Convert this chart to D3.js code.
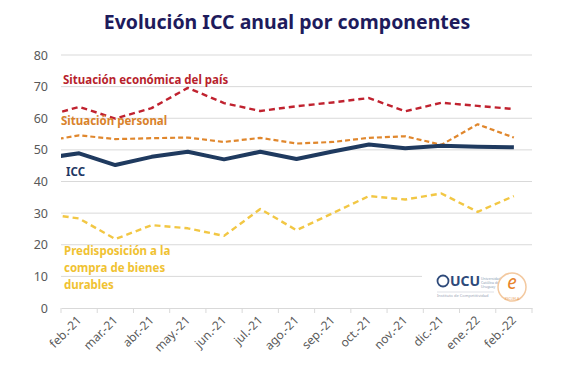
<!DOCTYPE html>
<html>
<head>
<meta charset="utf-8">
<script src="https://cdn.jsdelivr.net/npm/d3@7"></script>
<style>
  body { margin: 0; background: #fff; }
  text { font-family: "Noto Sans", "Open Sans", sans-serif; }
</style>
</head>
<body>
<svg id="chart" width="584" height="380"></svg>
<script>
// months shown on the axis
var months = ["feb.-21","mar.-21","abr.-21","may.-21","jun.-21","jul.-21","ago.-21",
              "sep.-21","oct.-21","nov.-21","dic.-21","ene.-22","feb.-22"];

// first value of each series is ene.-21 (the line enters from the left edge)
var pais      = [60.4, 63.6, 59.9, 63.2, 69.6, 64.8, 62.3, 63.8, 65.0, 66.4, 62.2, 64.9, 63.9, 62.9];
var personal  = [52.6, 54.6, 53.4, 53.7, 53.9, 52.5, 53.8, 52.0, 52.5, 53.8, 54.3, 51.6, 58.1, 53.9];
var icc       = [47.3, 48.9, 45.2, 47.8, 49.4, 47.0, 49.4, 47.1, 49.5, 51.7, 50.5, 51.3, 51.0, 50.8];
var durables  = [29.9, 28.3, 21.8, 26.2, 25.2, 22.8, 31.3, 24.6, 30.0, 35.4, 34.3, 36.2, 30.4, 35.4];

var yTicks = [0, 10, 20, 30, 40, 50, 60, 70, 80];

var svg = d3.select("#chart");
var mLeft = 61, mRight = 532, mTop = 55, mBottom = 308;

var x = d3.scaleBand().domain(months).range([mLeft, mRight]);
var y = d3.scaleLinear().domain([0, 80]).range([mBottom, mTop]);

// x position: index 0 is the month before feb.-21
function xi(i) {
  if (i === 0) return x(months[0]) - x.bandwidth() / 2;
  return x(months[i - 1]) + x.bandwidth() / 2;
}

// title
svg.append("text")
    .attr("x", 287).attr("y", 29)
    .attr("text-anchor", "middle")
    .style("font-size", "19.5px").style("font-weight", "bold")
    .style("fill", "#1e1b5c")
    .text("Evolución ICC anual por componentes");

// gridlines
svg.append("g").selectAll("line")
    .data(yTicks.filter(function(d){ return d > 0; }))
  .enter().append("line")
    .attr("x1", mLeft).attr("x2", mRight)
    .attr("y1", function(d){ return y(d); }).attr("y2", function(d){ return y(d); })
    .attr("stroke", "#d9d9d9").attr("stroke-width", 1);

// y axis labels
svg.append("g").selectAll("text")
    .data(yTicks)
  .enter().append("text")
    .attr("x", 48).attr("y", function(d){ return y(d) + 4.5; })
    .attr("text-anchor", "end")
    .style("font-size", "12.5px").style("fill", "#595959")
    .text(function(d){ return d; });

// x axis
var xAxis = svg.append("g").attr("transform", "translate(0," + mBottom + ")")
    .call(d3.axisBottom(x).tickSize(0).tickFormat(""));
xAxis.select(".domain").attr("stroke", "#d9d9d9");
svg.append("g").selectAll("line")
    .data(d3.range(months.length + 1))
  .enter().append("line")
    .attr("x1", function(i){ return mLeft + i * x.bandwidth(); })
    .attr("x2", function(i){ return mLeft + i * x.bandwidth(); })
    .attr("y1", mBottom).attr("y2", mBottom + 5)
    .attr("stroke", "#d9d9d9");

svg.append("g").selectAll("text")
    .data(months)
  .enter().append("text")
    .attr("transform", function(d){
      return "translate(" + (x(d) + x.bandwidth() / 2 + 3) + "," + (mBottom + 13) + ") rotate(-45)";
    })
    .attr("text-anchor", "end")
    .style("font-size", "12px").style("fill", "#595959")
    .text(function(d){ return d; });

// logos (white patch over the gridline)
var logo = svg.append("g");
logo.append("rect").attr("x", 422).attr("y", 268).attr("width", 112).attr("height", 38).attr("fill", "#fff");
logo.append("circle").attr("cx", 443).attr("cy", 281).attr("r", 5.5)
    .attr("fill", "none").attr("stroke", "#2e4a7a").attr("stroke-width", 1.8);
logo.append("text").attr("x", 450).attr("y", 286)
    .style("font-size", "14px").style("font-weight", "bold").style("fill", "#2e4a7a").text("UCU");
logo.append("text").attr("x", 481).attr("y", 280)
    .style("font-size", "3.5px").style("fill", "#8a9bb5").text("Universidad");
logo.append("text").attr("x", 481).attr("y", 284)
    .style("font-size", "3.5px").style("fill", "#8a9bb5").text("Católica del");
logo.append("text").attr("x", 481).attr("y", 288)
    .style("font-size", "3.5px").style("fill", "#8a9bb5").text("Uruguay");
logo.append("line").attr("x1", 437).attr("x2", 494).attr("y1", 292).attr("y2", 292)
    .attr("stroke", "#c9cdd6").attr("stroke-width", 0.6);
logo.append("text").attr("x", 437).attr("y", 297)
    .style("font-size", "4px").style("fill", "#9aa3b5").text("Instituto de Competitividad");
logo.append("circle").attr("cx", 512).attr("cy", 287).attr("r", 14)
    .attr("fill", "#fff").attr("stroke", "#f3c9a0").attr("stroke-width", 1.5);
logo.append("text").attr("x", 512).attr("y", 289).attr("text-anchor", "middle")
    .style("font-size", "19px").style("font-style", "italic").style("fill", "#e8842c").text("e");
logo.append("text").attr("x", 512).attr("y", 299.5).attr("text-anchor", "middle")
    .style("font-size", "3.5px").style("fill", "#e8a060").text("ESCUELA");

// clip so the ene.-21 segment starts at the plot edge
svg.append("clipPath").attr("id", "plot")
  .append("rect").attr("x", mLeft).attr("y", 0).attr("width", mRight - mLeft).attr("height", 380);

var line = d3.line()
    .x(function(d, i){ return xi(i); })
    .y(function(d){ return y(d); });

var series = [
  { values: pais,     color: "#c0222f", width: 2.4, dash: "6,4" },
  { values: personal, color: "#e0872d", width: 2.2, dash: "5,3" },
  { values: durables, color: "#f2c744", width: 2.4, dash: "6,4" },
  { values: icc,      color: "#1f3a5f", width: 4.0, dash: null }
];

svg.append("g").attr("clip-path", "url(#plot)").selectAll("path")
    .data(series)
  .enter().append("path")
    .attr("d", function(d){ return line(d.values); })
    .attr("fill", "none")
    .attr("stroke", function(d){ return d.color; })
    .attr("stroke-width", function(d){ return d.width; })
    .attr("stroke-dasharray", function(d){ return d.dash; })
    .attr("stroke-linejoin", "round");

// series labels
var labels = [
  { text: ["Situación económica del país"], x: 63, y: 84, color: "#b81f2d" },
  { text: ["Situación personal"], x: 61, y: 125, color: "#d9822b" },
  { text: ["ICC"], x: 66, y: 176, color: "#1f3864" },
  { text: ["Predisposición a la", "compra de bienes", "durables"], x: 64, y: 255, color: "#f0c232" }
];

labels.forEach(function(l){
  l.text.forEach(function(t, j){
    svg.append("text")
        .attr("x", l.x).attr("y", l.y + j * 17)
        .style("font-size", "11.5px").style("font-weight", "bold")
        .style("fill", l.color)
        .text(t);
  });
});
</script>
</body>
</html>
